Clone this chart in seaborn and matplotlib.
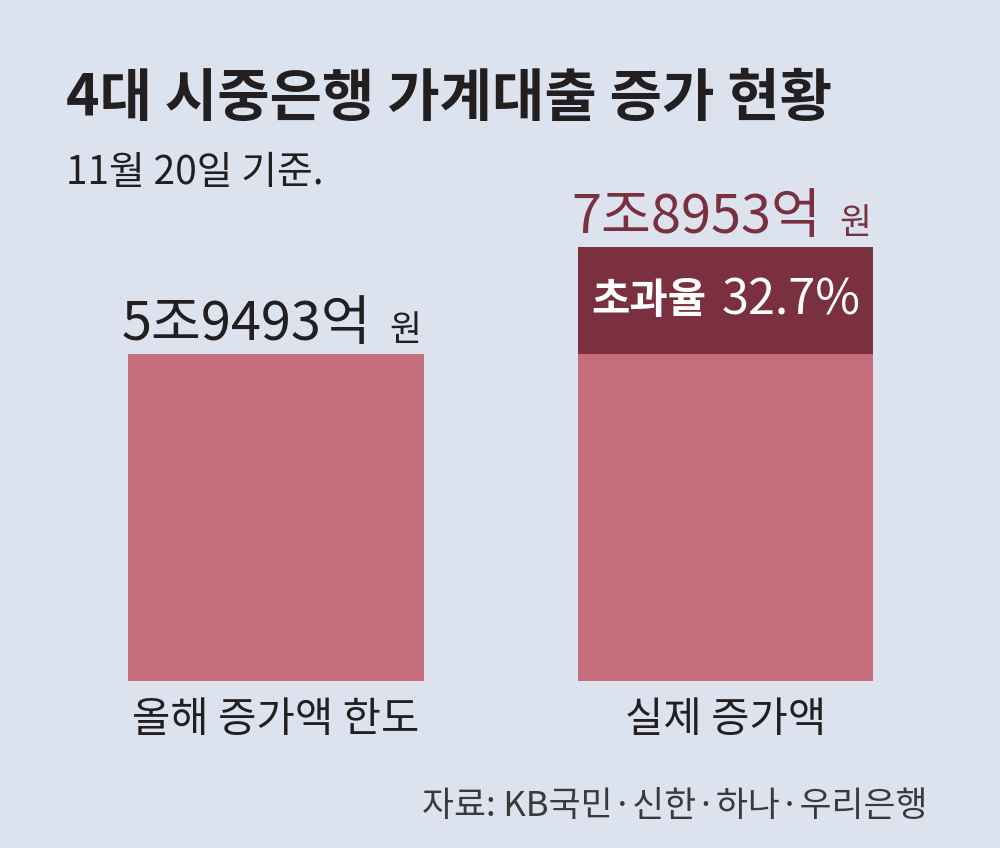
import pandas as pd
import matplotlib.pyplot as plt
import seaborn as sns

# 4대 시중은행 가계대출 증가 (단위: 억 원)
categories = ["올해 증가액 한도", "실제 증가액"]
amounts = [59493, 78953]
value_main = ["5조9493억", "7조8953억"]
excess_label = "초과율"
excess_rate = "32.7%"

title = "4대 시중은행 가계대출 증가 현황"
subtitle = "11월 20일 기준."
source = "자료: KB국민·신한·하나·우리은행"

bg = "#dce3ef"
pink = "#c76e7d"
dark = "#7b3040"
ink = "#231f20"

sns.set_theme(style="white")
plt.rcParams["font.family"] = ["Noto Sans CJK KR", "DejaVu Sans"]

df = pd.DataFrame({"항목": categories, "금액": amounts})

fig = plt.figure(figsize=(10, 8.48), dpi=100, facecolor=bg)
ax = fig.add_axes([0, 1 - 681 / 848, 1, 481 / 848])
ax.set_facecolor(bg)

sns.barplot(data=df, x="항목", y="금액", color=pink, saturation=1,
            width=0.658, linewidth=0, ax=ax)
# 한도 초과분
limit = amounts[0]
ax.bar(1, amounts[1] - limit, bottom=limit, width=0.658, color=dark,
       linewidth=0)

ax.set_xlim(-276 / 449.5, (1000 - 276) / 449.5)
ax.set_ylim(0, 481 / (327 / amounts[0]))
sns.despine(ax=ax, left=True, bottom=True)
ax.set_yticks([])
ax.set_xlabel("")
ax.set_ylabel("")
ax.tick_params(axis="x", length=0, pad=14, labelsize=30, labelcolor=ink)

colors = [ink, dark]
for i, (v, txt) in enumerate(zip(amounts, value_main)):
    ax.annotate(txt, xy=(i, v), xytext=(69, 10), textcoords="offset points",
                ha="right", va="baseline", fontsize=39, color=colors[i])
    ax.annotate("원", xy=(i, v), xytext=(82, 10), textcoords="offset points",
                ha="left", va="baseline", fontsize=25, color=colors[i])

mid = (limit + amounts[1]) / 2
ax.annotate(excess_label, xy=(1, mid), xytext=(-14, 0),
            textcoords="offset points", ha="right", va="center",
            fontsize=30, fontweight="bold", color="white")
ax.annotate(excess_rate, xy=(1, mid), xytext=(-3, 0),
            textcoords="offset points", ha="left", va="center",
            fontsize=35, color="white")

fig.text(0.066, 1 - 116 / 848, title, fontsize=41, fontweight="bold",
         color=ink, va="baseline")
fig.text(0.066, 1 - 184 / 848, subtitle, fontsize=28, color=ink,
         va="baseline")
fig.text(0.928, 1 - 816 / 848, source, fontsize=25, color="#3a3a3a",
         ha="right", va="baseline")

fig.savefig("out.png", dpi=100, facecolor=bg)
